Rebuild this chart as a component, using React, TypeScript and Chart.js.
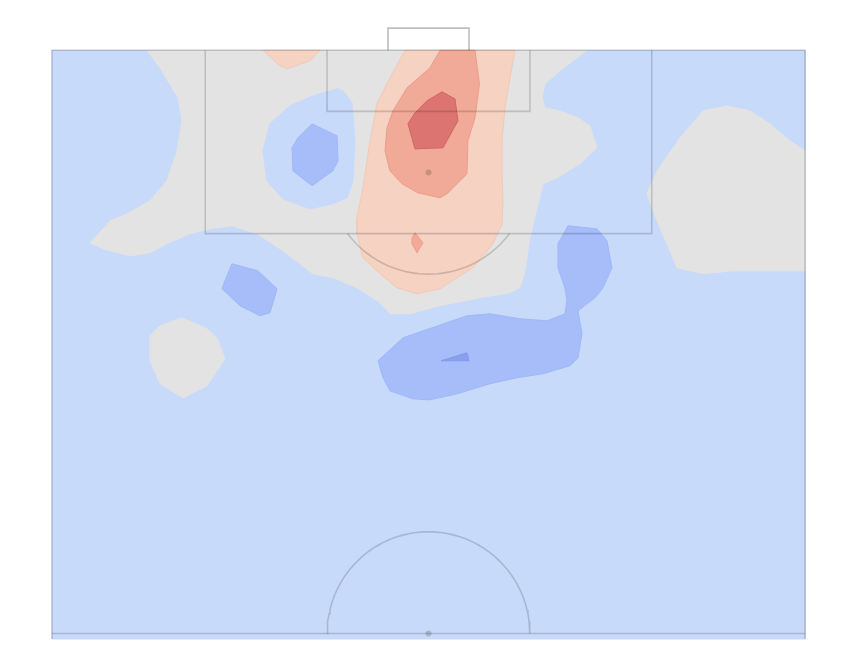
import React, { useEffect, useRef } from "react";
import { Chart, registerables } from "chart.js";

Chart.register(...registerables);

// Pitch dimensions (metres), half pitch, attacking upwards
const PITCH_WIDTH = 68;
const HALF_LENGTH = 52.5;

// Density contour bands, polygons in pitch metres [x across, y from goal line]
const levelBlueBase: number[][] = [[0, 0], [68, 0], [68, 53], [0, 53]];

const levelGrayTop: number[][] = [
  [8.58, 0], [48.31, 0], [45.87, 1.85], [44.52, 3.02], [44.25, 4.28], [44.52, 5.18],
  [45.87, 5.45], [47.5, 6.08], [48.58, 6.8], [49.21, 8.78], [47.68, 10.22], [45.6, 11.48],
  [44.34, 12.02], [43.16, 16.88], [42.71, 19.85], [42.26, 21.38], [41.36, 21.83],
  [38.65, 22.28], [35.04, 23.0], [32.33, 23.72], [30.52, 23.72], [29.62, 22.73],
  [27.54, 21.38], [25.37, 20.48], [23.57, 20.12], [20.86, 18.05], [18.51, 16.52],
  [16.25, 15.8], [14.27, 16.07], [12.46, 16.52], [10.38, 17.42], [8.85, 18.23],
  [7.04, 18.5], [4.61, 17.87], [3.43, 17.33], [4.61, 16.07], [5.24, 15.35], [6.77, 14.72],
  [8.85, 13.55], [10.38, 11.75], [11.29, 9.05], [11.74, 6.35], [11.38, 4.28], [9.75, 1.58],
];

const levelGrayRight: number[][] = [
  [53.73, 12.92], [54.63, 10.85], [56.71, 7.88], [58.79, 5.45], [60.95, 5.0], [63.03, 5.45],
  [64.84, 6.62], [66.64, 8.15], [68, 9.05], [68, 19.85], [63.93, 19.85], [61.5, 19.85],
  [58.79, 20.12], [56.44, 19.58], [55.53, 17.42], [54.63, 15.35],
];

const levelGrayIsland: number[][] = [
  [11.74, 24.08], [14.0, 25.07], [14.9, 25.88], [15.62, 27.77], [14.0, 30.21],
  [11.83, 31.29], [9.75, 30.02], [8.85, 27.95], [8.85, 25.7], [9.75, 24.8],
];

const levelBlueHole: number[][] = [
  [19.05, 9.05], [19.69, 6.62], [21.49, 5.0], [23.57, 4.1], [25.74, 3.47], [26.28, 3.65],
  [27.09, 4.73], [27.36, 8.15], [27.18, 11.75], [26.64, 13.28], [25.37, 13.82],
  [23.3, 14.27], [20.86, 13.37], [19.41, 11.75],
];

const levelDarkBlueBox: number[][] = [
  [23.48, 6.62], [25.74, 7.7], [25.83, 9.95], [25.37, 10.85], [23.48, 12.2],
  [21.76, 10.85], [21.67, 8.78], [22.21, 7.88],
];

const levelDarkBlueLeft: number[][] = [
  [16.25, 19.22], [18.6, 19.85], [20.32, 21.47], [19.69, 23.63], [18.78, 23.9],
  [16.98, 23.0], [15.35, 21.47], [15.8, 20.3],
];

const levelDarkBlueBand: number[][] = [
  [29.44, 27.95], [31.7, 25.88], [37.47, 23.9], [39.55, 23.72], [42.26, 24.17],
  [44.7, 24.35], [46.32, 23.72], [46.5, 22.55], [46.32, 21.38], [45.69, 19.58],
  [45.69, 17.42], [46.6, 15.8], [49.21, 16.07], [50.12, 17.15], [50.57, 19.58],
  [49.76, 21.38], [49.03, 22.28], [47.5, 23.45], [47.86, 25.52], [47.5, 27.68],
  [46.78, 28.4], [44.34, 29.12], [41.99, 29.48], [39.55, 30.02], [36.57, 30.93],
  [34.13, 31.47], [32.6, 31.38], [30.52, 30.66], [29.89, 29.48],
];

const levelDeepestBlue: number[][] = [[35.13, 27.95], [37.47, 27.23], [37.66, 27.95]];

const levelPeachSmall: number[][] = [[19.05, 0], [20.59, 1.4], [21.22, 1.67], [23.3, 0.95], [24.2, 0]];

const levelPeachMain: number[][] = [
  [31.88, 0], [30.52, 2.48], [29.35, 4.82], [28.72, 8.15], [28.08, 12.38], [27.54, 15.08],
  [27.54, 16.52], [28.08, 18.68], [29.62, 20.12], [31.15, 21.38], [32.96, 21.92],
  [35.04, 21.47], [36.57, 20.48], [38.02, 19.58], [39.82, 17.42], [40.64, 15.62],
  [40.73, 13.55], [40.64, 11.12], [40.64, 8.15], [40.91, 5.18], [41.36, 2.48], [41.81, 0],
];

const levelSalmon: number[][] = [
  [35.04, 0], [34.13, 1.58], [32.06, 3.38], [30.79, 5.45], [30.25, 6.98], [30.07, 9.05],
  [30.52, 10.85], [31.6, 12.02], [33.05, 12.83], [35.04, 13.28], [35.67, 12.92],
  [37.47, 11.12], [37.56, 8.15], [38.2, 6.08], [38.6, 3.02], [38.2, 0],
];

const levelSalmonSmall: number[][] = [[32.78, 16.43], [33.5, 17.33], [32.96, 18.23], [32.51, 17.42], [32.51, 16.88]];

const levelRed: number[][] = [
  [35.22, 3.74], [36.39, 4.37], [36.66, 6.35], [35.31, 8.78], [32.78, 8.87],
  [32.15, 6.62], [32.78, 5.63], [33.86, 4.55],
];

// Pitch markings
const outline: number[][] = [[0, 53], [0, 0], [68, 0], [68, 53]];
const halfwayLine: number[][] = [[0, 52.5], [68, 52.5]];
const penaltyBox: number[][] = [[13.84, 0], [13.84, 16.5], [54.16, 16.5], [54.16, 0]];
const sixYardBox: number[][] = [[24.84, 0], [24.84, 5.5], [43.16, 5.5], [43.16, 0]];
const goalFrame: number[][] = [[30.34, 0], [30.34, -2], [37.66, -2], [37.66, 0]];
const spots: number[][] = [[34, 11], [34, 52.5]];

function arcPoints(cx: number, cy: number, r: number, a0: number, a1: number, n: number) {
  const pts: { x: number; y: number }[] = [];
  for (let i = 0; i <= n; i++) {
    const a = a0 + ((a1 - a0) * i) / n;
    pts.push({ x: cx + r * Math.cos(a), y: cy + r * Math.sin(a) });
  }
  return pts;
}

const toXY = (p: number[][], close = false) => {
  const d = p.map(([x, y]) => ({ x, y }));
  if (close) d.push({ x: p[0][0], y: p[0][1] });
  return d;
};

const C_DEEP = "#8b9fee";
const C_DARKBLUE = "#a6bdfa";
const C_BLUE = "#c8daf9";
const C_GRAY = "#e3e3e3";
const C_PEACH = "#f5d2c2";
const C_SALMON = "#f1aa97";
const C_RED = "#dc7571";
const LINE = "rgba(0,0,0,0.16)";

export default function App() {
  const ref = useRef<HTMLCanvasElement | null>(null);
  useEffect(() => {
    if (!ref.current) return;
    const poly = (pts: number[][], fillColor: string, edge: string) => ({
      type: "line" as const,
      data: toXY(pts, true),
      backgroundColor: fillColor,
      borderColor: edge,
      borderWidth: 1,
      fill: "shape" as any,
      pointRadius: 0,
      tension: 0,
      clip: false as any,
    });
    const line = (pts: any[], color: string, w = 1.6) => ({
      type: "line" as const,
      data: pts,
      borderColor: color,
      backgroundColor: color,
      borderWidth: w,
      fill: false,
      pointRadius: 0,
      tension: 0,
      clip: false as any,
    });
    const t = Math.asin(5.5 / 9.15);
    const list: any[] = [
      poly(levelBlueBase, C_BLUE, C_BLUE),
      poly(levelGrayTop, C_GRAY, C_GRAY),
      poly(levelGrayRight, C_GRAY, C_GRAY),
      poly(levelGrayIsland, C_GRAY, C_GRAY),
      poly(levelBlueHole, C_BLUE, C_BLUE),
      poly(levelDarkBlueBox, C_DARKBLUE, "#a0b8f8"),
      poly(levelDarkBlueLeft, C_DARKBLUE, "#a0b8f8"),
      poly(levelDarkBlueBand, C_DARKBLUE, "#a0b8f8"),
      poly(levelDeepestBlue, C_DEEP, "#8399ec"),
      poly(levelPeachSmall, C_PEACH, "#f2c9b8"),
      poly(levelPeachMain, C_PEACH, "#f2c9b8"),
      poly(levelSalmon, C_SALMON, "#ec9e8b"),
      poly(levelSalmonSmall, C_SALMON, "#ec9e8b"),
      poly(levelRed, C_RED, "#d06664"),
      line(toXY(outline), LINE),
      line(toXY(halfwayLine), LINE),
      line(toXY(penaltyBox), LINE),
      line(toXY(sixYardBox), LINE),
      line(toXY(goalFrame), "rgba(0,0,0,0.26)"),
      line(arcPoints(34, 11, 9.15, t, Math.PI - t, 40), LINE),
      line(arcPoints(34, HALF_LENGTH, 9.15, Math.PI, 2 * Math.PI, 80), LINE),
      {
        type: "scatter" as const,
        data: toXY(spots),
        pointRadius: 3,
        pointBackgroundColor: LINE,
        pointBorderWidth: 0,
        showLine: false,
        clip: false as any,
      },
    ];
    const n = list.length;
    list.forEach((d, i) => (d.order = n - i));
    const chart = new Chart(ref.current, {
      type: "scatter",
      data: { datasets: list },
      options: {
        animation: false,
        responsive: true,
        maintainAspectRatio: false,
        layout: { padding: { left: 52, right: 51, top: 17, bottom: 7 } },
        scales: {
          x: { type: "linear", min: 0, max: PITCH_WIDTH, display: false },
          y: { type: "linear", min: -3, max: 53, reverse: true, display: false },
        },
        plugins: { legend: { display: false }, tooltip: { enabled: false } },
        events: [],
      },
    });
    return () => chart.destroy();
  }, []);
  return (
    <div style={{ position: "fixed", left: 0, top: 0, width: 856, height: 646, background: "#fff" }}>
      <canvas ref={ref} />
    </div>
  );
}
